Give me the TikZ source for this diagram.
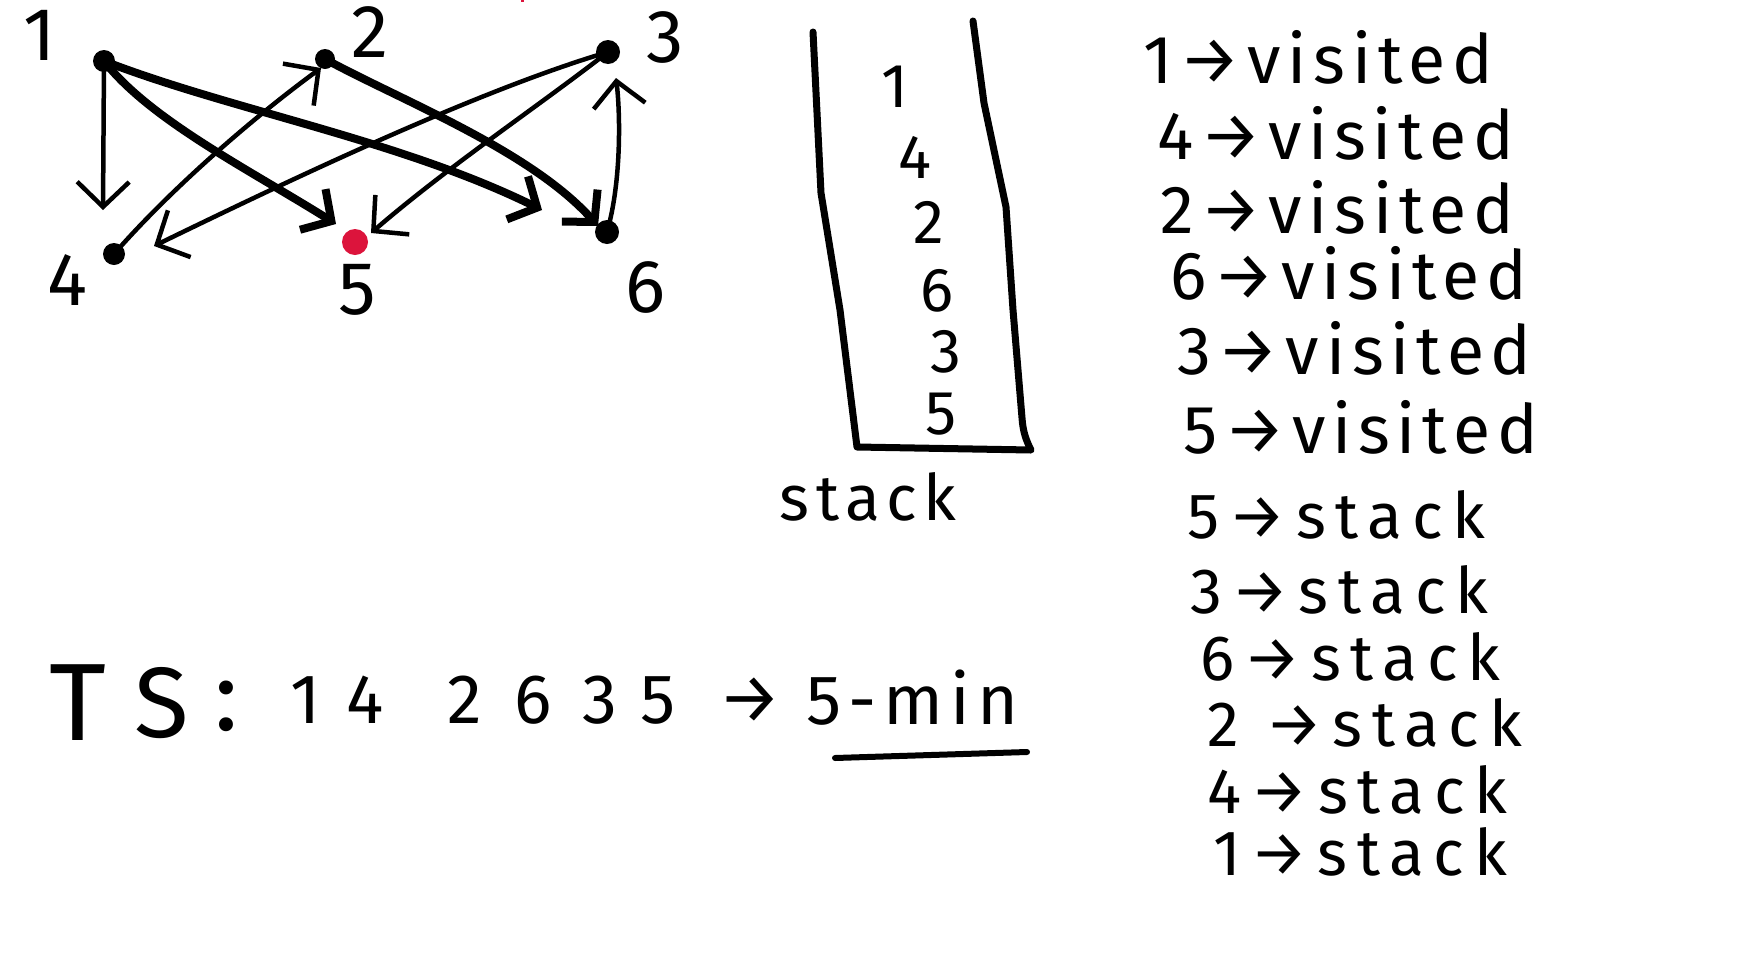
\documentclass[tikz,border=0pt]{standalone}
\usepackage{fontspec}
\setmainfont{Fira Sans}
\newfontfamily\hand[LetterSpace=10]{Fira Sans}
\newfontfamily\handw[LetterSpace=15]{Fira Sans}
\usetikzlibrary{arrows.meta}
\definecolor{inkred}{HTML}{DC143C}
\newcommand\hfs[1]{\fontsize{#1}{#1}\selectfont}
\begin{document}
\begin{tikzpicture}[x=1pt,y=-1pt,
  dot/.style={circle,fill=black,inner sep=0pt,minimum size=22pt},
  reddot/.style={circle,fill=inkred,inner sep=0pt,minimum size=26pt},
  thinedge/.style={line width=4.5pt,line cap=round,line join=round,-{Straight Barb[length=25pt,width=52pt]}},
  thickedge/.style={line width=8pt,line cap=round,line join=round,-{Straight Barb[length=22pt,width=48pt]}},
  lbl/.style={font=\hand\hfs{75},inner sep=0pt},
  stk/.style={font=\hand\hfs{62},inner sep=0pt},
  row/.style={font=\hand\hfs{68},inner sep=0pt,anchor=west},
  srow/.style={font=\handw\hfs{64},inner sep=0pt,anchor=west},
  ts/.style={font=\hand\hfs{70},inner sep=0pt},
  box/.style={line width=7pt,line cap=round,line join=round}
]
\useasboundingbox (0,0) rectangle (1750,959);
\fill[white] (0,0) rectangle (1750,959);
% tiny red mark at top
\draw[inkred,line width=3pt] (522,0) -- (522,2);

% graph nodes
\node[dot] (n1) at (104,61) {};
\node[dot,minimum size=20pt] (n2) at (325,59) {};
\node[dot,minimum size=24pt] (n3) at (608,52) {};
\node[dot] (n4) at (114,254) {};
\node[reddot] (n5) at (355,242) {};
\node[dot,minimum size=24pt] (n6) at (607,232) {};

\node[lbl] (l1) at (40,35) {1};
\node[lbl] (l2) at (370,32) {2};
\node[lbl] (l3) at (665,37) {3};
\node[lbl] (l4) at (67,280) {4};
\node[lbl] (l5) at (357,290) {5};
\node[lbl] (l6) at (645,287) {6};

% free ends of arrows
\coordinate (t14) at (103,210);
\coordinate (t15) at (336,224);
\coordinate (t16) at (542,210);
\coordinate (t26) at (598,226);
\coordinate (t42) at (321,68);
\coordinate (t34) at (154,246);
\coordinate (t35) at (371,233);
\coordinate (t63) at (616,78);

\draw[thinedge] (n1.center) -- (t14);
\draw[thickedge] (n1.center) .. controls (150,120) and (250,170) .. (t15);
\draw[thickedge] (n1.center) .. controls (230,110) and (400,140) .. (t16);
\draw[thickedge] (n2.center) .. controls (400,100) and (530,150) .. (t26);
\draw[thinedge] (n4.center) .. controls (170,190) and (250,120) .. (t42);
\draw[thinedge] (n3.center) .. controls (480,90) and (300,175) .. (t34);
\draw[thinedge] (n3.center) .. controls (540,105) and (450,165) .. (t35);
\draw[thinedge] (n6.center) .. controls (622,180) and (620,110) .. (t63);

% stack box
\draw[box] (813,32) -- (821,193) -- (840,310) -- (857,447) -- (1031,450)
  .. controls (1026,440) and (1023,432) .. (1022,418) -- (1013,310)
  -- (1006,207) -- (984,103) -- (973,21);
\node[stk] (s1) at (895,87) {1};
\node[stk] (s4) at (915,157) {4};
\node[stk] (s2) at (929,222) {2};
\node[stk] (s6) at (937,291) {6};
\node[stk] (s3) at (946,352) {3};
\node[stk] (s5) at (941,414) {5};
\node[font=\hand\hfs{64},inner sep=0pt] (stacklbl) at (868,497) {stack};

% right column
\node[row] (v1) at (1143,57) {1→visited};
\node[row] (v4) at (1157,133) {4→visited};
\node[row] (v2) at (1160,207) {2→visited};
\node[row] (v6) at (1170,273) {6→visited};
\node[row] (v3) at (1177,348) {3→visited};
\node[row] (v5) at (1183,427) {5→visited};

\node[srow] (k5) at (1187,515) {5→stack};
\node[srow] (k3) at (1190,590) {3→stack};
\node[srow] (k6) at (1200,657) {6→stack};
\node[srow] (k2) at (1207,723) {2 →stack};
\node[srow] (k4) at (1207,790) {4→stack};
\node[srow] (k1) at (1213,852) {1→stack};

% topological sort line
\node[font=\hand\hfs{110},inner sep=0pt] (tT) at (78,703) {T};
\node[font=\hand\hfs{100},inner sep=0pt] (tS) at (162,703) {S};
\node[font=\hand\hfs{100},inner sep=0pt] (tcolon) at (226,706) {:};
\node[ts] (d1) at (306,700) {1};
\node[ts] (d4) at (365,700) {4};
\node[ts] (d2) at (465,700) {2};
\node[ts] (d6) at (533,700) {6};
\node[ts] (d3) at (600,700) {3};
\node[ts] (d5) at (658,700) {5};
\node[ts] (tsarrow) at (750,700) {→};
\node[ts,anchor=west] (fivemin) at (806,698) {5-min};
\coordinate (u1) at (835,758);
\coordinate (u2) at (1027,752);
\draw[line width=6pt,line cap=round] (u1) -- (u2);
\end{tikzpicture}
\end{document}
